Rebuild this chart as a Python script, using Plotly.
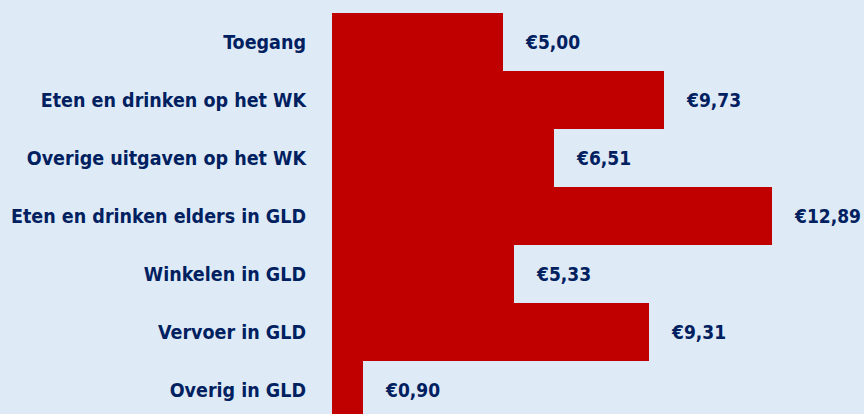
import plotly.graph_objects as go

categories = [
    "Toegang",
    "Eten en drinken op het WK",
    "Overige uitgaven op het WK",
    "Eten en drinken elders in GLD",
    "Winkelen in GLD",
    "Vervoer in GLD",
    "Overig in GLD",
]
values = [5.00, 9.73, 6.51, 12.89, 5.33, 9.31, 0.90]
value_labels = ["€5,00", "€9,73", "€6,51", "€12,89", "€5,33", "€9,31", "€0,90"]

BG = "#DEEBF7"
BAR = "#C00000"
NAVY = "#002060"
FONT = "DejaVu Sans Condensed, sans-serif"

fig = go.Figure(
    go.Bar(
        x=values,
        y=categories,
        orientation="h",
        marker=dict(color=BAR, line=dict(width=0)),
        hoverinfo="skip",
    )
)

for v, c, t in zip(values, categories, value_labels):
    fig.add_annotation(
        x=v, y=c, text=f"<b>{t}</b>", showarrow=False,
        xanchor="left", yanchor="middle", xshift=20,
        font=dict(family=FONT, size=19, color=NAVY),
    )

fig.update_layout(
    width=864, height=414,
    margin=dict(l=332, r=0, t=13, b=0),
    paper_bgcolor=BG, plot_bgcolor=BG,
    bargap=0,
    showlegend=False,
    xaxis=dict(range=[0, 15.6], visible=False, showgrid=False, zeroline=False),
    yaxis=dict(
        categoryorder="array", categoryarray=categories,
        range=[6.414, -0.5], autorange=False, automargin=False,
        showgrid=False, zeroline=False, showline=False,
        ticks="", ticklabelstandoff=25,
        tickfont=dict(family=FONT, size=19.5, color=NAVY, weight="bold"),
    ),
)

fig.write_html(
    "out.html",
    config={"displayModeBar": False},
    post_script="document.body.style.margin='0';",
)
